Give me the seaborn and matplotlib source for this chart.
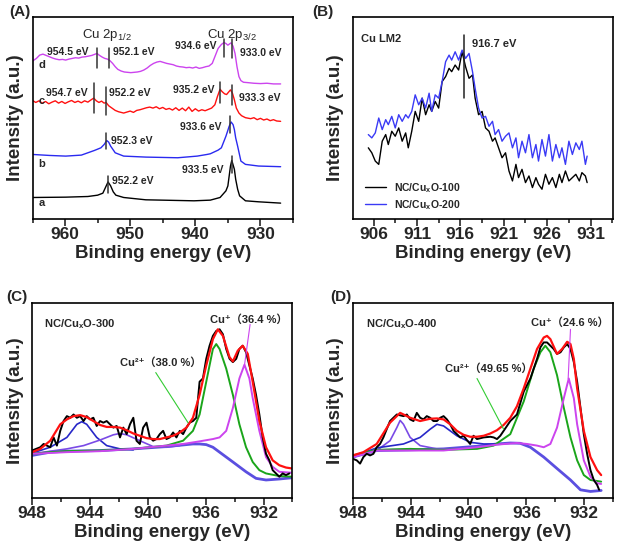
import numpy as np
import matplotlib
matplotlib.use("Agg")
import matplotlib.pyplot as plt
from matplotlib.ticker import FixedLocator
import seaborn as sns

# ---------------- panel A : Cu 2p survey of samples a-d ----------------
a_ev = [965.0, 959.9, 956.5, 955.0, 954.2, 953.8, 953.4, 953.0, 952.6, 952.2, 951.0,
        947.6, 940.2, 937.7, 936.2, 935.3, 935.0, 934.6, 934.4, 934.0, 933.8, 933.5,
        933.2, 932.3, 930.3, 926.9]
a_int = [65, 66, 68, 72, 78, 95, 112, 100, 82, 72, 65,
         58, 55, 57, 65, 85, 100, 160, 177, 150, 120, 90,
         70, 55, 52, 48]

b_ev = [965.0, 962.4, 959.9, 957.5, 956.5, 955.5, 954.5, 954.0, 953.6, 953.3, 953.0,
        952.3, 951.0, 947.6, 942.7, 939.7, 938.2, 937.7, 936.5, 936.0, 935.8, 935.3,
        934.8, 934.5, 934.2, 934.0, 933.8, 933.5, 933.0, 932.3, 930.3, 926.9]
b_int = [195, 192, 190, 193, 200, 207, 215, 225, 237, 232, 220,
         200, 190, 187, 185, 190, 195, 197, 208, 215, 225, 250,
         280, 293, 285, 270, 245, 220, 175, 165, 160, 158]

c_ev = [965.0, 964.5, 964.0, 963.5, 963.0, 962.5, 962.0, 961.5, 961.0, 960.5, 960.0,
        959.5, 959.0, 958.5, 958.0, 957.5, 957.0, 956.5, 956.0, 955.6, 955.2, 954.8,
        954.4, 954.0, 953.7, 953.3, 952.8, 952.3, 951.8, 951.0, 950.5, 950.0, 949.5,
        949.0, 948.5, 948.0, 947.5, 947.0, 946.5, 946.0, 945.5, 945.0, 944.5, 944.0,
        943.5, 943.0, 942.5, 942.0, 941.5, 941.0, 940.5, 940.0, 939.5, 939.0, 938.5,
        938.0, 937.5, 937.0, 936.6, 936.2, 935.9, 935.5, 935.2, 934.9, 934.6, 934.3,
        934.0, 933.7, 933.3, 932.9, 932.3, 931.5, 931.0, 930.5, 930.0, 929.5, 929.0,
        928.5, 928.0, 927.5, 926.9]
c_int = [358, 352, 357, 350, 355, 348, 353, 357, 350, 355, 349,
         354, 358, 352, 356, 351, 357, 353, 360, 365, 357, 352,
         356, 350, 352, 342, 335, 328, 324, 320, 323, 326, 322,
         328, 330, 333, 336, 338, 335, 339, 333, 337, 331, 334,
         329, 336, 328, 335, 327, 338, 325, 333, 326, 330, 327,
         331, 335, 345, 370, 392, 385, 378, 376, 383, 390, 380,
         360, 335, 320, 312, 306, 303, 306, 300, 304, 299, 302,
         297, 300, 296, 295]

d_ev = [965.0, 964.4, 963.9, 963.4, 962.9, 962.4, 961.9, 961.4, 960.9, 960.4, 959.9,
        959.4, 958.9, 958.4, 957.9, 957.4, 956.9, 956.4, 955.9, 955.5, 955.1, 954.7,
        954.3, 953.9, 953.5, 953.1, 952.7, 952.3, 951.9, 951.4, 950.9, 950.4, 949.9,
        949.4, 948.9, 948.4, 947.9, 947.4, 946.9, 946.4, 945.9, 945.4, 944.9, 944.4,
        943.9, 943.4, 942.9, 942.4, 941.9, 941.4, 940.9, 940.4, 939.9, 939.4, 938.9,
        938.4, 937.9, 937.4, 937.0, 936.5, 936.0, 935.6, 935.3, 935.0, 934.8, 934.5,
        934.2, 933.9, 933.6, 933.3, 933.0, 932.6, 932.0, 931.0, 930.0, 929.0, 928.0,
        926.9]
d_int = [477, 485, 495, 498, 494, 490, 486, 483, 481, 482, 480,
         483, 485, 487, 486, 489, 490, 492, 494, 497, 500, 494,
         489, 485, 483, 478, 470, 460, 452, 447, 444, 443, 442,
         443, 444, 446, 450, 456, 464, 470, 474, 476, 473, 470,
         468, 466, 462, 460, 459, 457, 458, 456, 459, 455, 457,
         460, 462, 470, 490, 515, 527, 533, 530, 525, 528, 532,
         522, 500, 460, 430, 418, 413, 412, 410, 409, 410, 408,
         408]

# peak markers (x, y_low, y_high) and labels (text, x, y)
a_marks = [(955.1, 455, 515), (953.3, 455, 515), (935.6, 490, 545), (934.4, 485, 545),
           (955.6, 320, 410), (953.7, 315, 400), (936.2, 350, 415), (934.4, 345, 405),
           (953.7, 210, 260), (934.6, 260, 310),
           (953.4, 80, 130), (934.4, 140, 190)]
a_labels = [("954.5 eV", 959.6, 503), ("952.1 eV", 949.5, 503),
            ("934.6 eV", 939.9, 523), ("933.0 eV", 929.9, 500),
            ("954.7 eV", 959.7, 382), ("952.2 eV", 950.1, 382),
            ("935.2 eV", 940.2, 390), ("933.3 eV", 930.1, 365),
            ("933.6 eV", 939.1, 277), ("952.3 eV", 949.7, 235),
            ("933.5 eV", 938.8, 147), ("952.2 eV", 949.6, 115)]
a_letters = [("d", 964.1, 465), ("c", 964.1, 355), ("b", 964.1, 165), ("a", 964.1, 48)]

# ---------------- panel B : Cu LMM ----------------
lm_ev = [905.4, 905.8, 906.2, 906.6, 907.0, 907.4, 907.7, 908.1, 908.5, 908.9, 909.3,
         909.7, 910.0, 910.4, 910.8, 911.2, 911.6, 912.0, 912.4, 912.7, 913.1, 913.5,
         913.9, 914.3, 914.7, 915.0, 915.4, 915.8, 916.2, 916.6, 917.0, 917.4, 917.7,
         918.1, 918.5, 918.9, 919.3, 919.7, 920.0, 920.4, 920.8, 921.2, 921.6, 922.0,
         922.4, 922.7, 923.1, 923.5, 923.9, 924.3, 924.7, 925.0, 925.4, 925.8, 926.2,
         926.6, 927.0, 927.4, 927.7, 928.1, 928.5, 928.9, 929.3, 929.7, 930.0, 930.4,
         930.6]
lm_100 = [215, 200, 175, 165, 235, 255, 225, 265, 250, 275, 235,
          260, 215, 265, 325, 295, 365, 315, 345, 325, 355, 335,
          415, 430, 455, 445, 465, 450, 505, 460, 425, 435, 365,
          315, 325, 275, 265, 235, 245, 215, 185, 200, 145, 115,
          165, 125, 150, 110, 130, 95, 125, 105, 90, 135, 105,
          125, 95, 135, 110, 145, 115, 125, 135, 115, 140, 130,
          110]
lm_200 = [255, 245, 260, 305, 270, 300, 285, 310, 275, 315, 295,
          315, 305, 325, 375, 345, 365, 335, 380, 325, 375, 365,
          415, 475, 495, 480, 505, 480, 510, 485, 500, 445, 395,
          335, 305, 310, 280, 295, 255, 270, 235, 250, 260, 215,
          245, 185, 235, 200, 255, 185, 225, 175, 240, 190, 255,
          175, 225, 185, 215, 165, 235, 195, 230, 210, 235, 165,
          190]

# ---------------- panel C : NC/CuxO-300 fit ----------------
c3_raw_ev = [948.00, 947.43, 947.20, 946.74, 946.51, 946.28, 946.05, 945.82, 945.59, 945.36,
             945.13, 944.90, 944.67, 944.44, 944.22, 943.99, 943.76, 943.53, 943.30, 943.07,
             942.84, 942.61, 942.38, 942.15, 941.92, 941.69, 941.46, 941.23, 941.00, 940.78,
             940.55, 940.32, 940.09, 939.86, 939.63, 939.40, 939.17, 938.94, 938.71, 938.48,
             938.25, 938.02, 937.79, 937.56, 937.33, 937.11, 936.88, 936.65, 936.42, 936.19,
             935.96, 935.73, 935.50, 935.27, 935.04, 934.81, 934.58, 934.35, 934.12, 933.89,
             933.67, 933.44, 933.21, 932.98, 932.75, 932.52, 932.29, 932.06, 931.83, 931.60,
             931.37, 931.14, 930.91, 930.68, 930.45, 930.22]
c3_raw = [145, 155, 165, 155, 185, 160, 205, 235, 250, 245,
          255, 245, 250, 235, 250, 240, 245, 220, 235, 230,
          235, 225, 215, 220, 185, 215, 195, 225, 245, 175,
          165, 215, 230, 185, 175, 180, 195, 205, 180, 185,
          200, 185, 205, 195, 215, 230, 235, 245, 355, 365,
          425, 465, 495, 510, 515, 500, 455, 425, 415, 425,
          455, 465, 445, 405, 365, 315, 255, 185, 135, 115,
          85, 75, 65, 75, 70, 75]
c3_env_ev = [948.00, 947.43, 946.74, 946.05, 945.59, 945.13, 944.67, 944.22, 943.76, 943.30,
             942.84, 942.38, 941.92, 941.46, 941.00, 940.55, 940.09, 939.63, 939.17, 938.71,
             938.25, 937.79, 937.33, 936.88, 936.42, 935.96, 935.50, 935.16, 934.81, 934.35,
             934.12, 933.78, 933.44, 933.09, 932.75, 932.29, 931.83, 931.37, 930.91, 930.45,
             930.00]
c3_env = [140, 150, 175, 225, 240, 250, 253, 247, 235, 223,
          217, 217, 215, 207, 197, 190, 183, 180, 180, 185,
          190, 200, 215, 245, 315, 405, 485, 515, 495, 430,
          417, 450, 465, 440, 355, 235, 155, 115, 100, 93,
          90]
c3_cu2_ev = [948.00, 946.74, 945.59, 943.30, 941.00, 938.71, 937.56, 936.88, 936.42, 935.96,
             935.50, 935.27, 935.04, 934.58, 934.12, 933.67, 933.21, 932.75, 932.29, 931.83,
             930.91, 930.00]
c3_cu2 = [135, 140, 143, 145, 150, 160, 175, 205, 255, 355,
          455, 470, 455, 395, 315, 225, 155, 110, 85, 75,
          67, 65]
c3_cu1_ev = [948.00, 945.59, 943.30, 941.00, 938.71, 937.56, 936.42, 935.50, 935.04, 934.58,
             934.12, 933.67, 933.32, 932.98, 932.75, 932.29, 931.83, 931.37, 930.91, 930.00]
c3_cu1 = [135, 140, 143, 150, 160, 165, 173, 180, 185, 205,
          275, 365, 407, 365, 305, 205, 125, 95, 80, 77]
c3_sat1_ev = [948.00, 946.74, 945.59, 944.90, 944.56, 944.22, 943.53, 942.84, 941.92, 941.00]
c3_sat1 = [137, 155, 185, 225, 233, 225, 185, 160, 150, 147]
c3_sat2_ev = [948.00, 945.59, 944.44, 943.30, 942.38, 941.92, 941.46, 940.55, 939.63, 938.71,
              937.79]
c3_sat2 = [135, 150, 160, 177, 193, 197, 193, 175, 157, 155, 160]
c3_bg_ev = [948.00, 946.74, 945.59, 943.30, 941.00, 938.71, 937.56, 936.88, 936.42, 935.96,
            935.50, 935.04, 934.12, 933.21, 932.52, 931.83, 930.91, 930.00]
c3_bg = [130, 140, 143, 145, 150, 157, 162, 165, 165, 163,
         155, 140, 110, 80, 60, 55, 58, 62]

# ---------------- panel D : NC/CuxO-400 fit ----------------
d4_raw_ev = [948.00, 947.72, 947.49, 947.26, 947.03, 946.80, 946.57, 946.34, 946.11, 945.88,
             945.42, 944.95, 944.49, 944.26, 944.03, 943.80, 943.57, 943.34, 943.11, 942.88,
             942.65, 942.42, 942.18, 941.95, 941.72, 941.49, 941.26, 941.03, 940.80, 940.57,
             940.34, 940.11, 939.88, 939.65, 939.41, 938.95, 938.49, 938.26, 938.03, 937.80,
             937.57, 937.34, 937.11, 936.65, 936.18, 935.72, 935.26, 935.03, 934.80, 934.57,
             934.34, 934.11, 933.88, 933.64, 933.41, 933.18, 932.95, 932.72, 932.49, 932.26,
             932.03, 931.80, 931.57, 931.34, 931.11, 930.97]
d4_raw = [120, 115, 105, 125, 135, 130, 135, 155, 165, 185,
          235, 255, 250, 255, 240, 235, 260, 245, 240, 250,
          245, 235, 235, 245, 250, 240, 225, 205, 195, 185,
          190, 177, 165, 190, 180, 185, 187, 185, 180, 190,
          205, 220, 235, 255, 325, 365, 425, 460, 475, 475,
          465, 455, 440, 445, 460, 470, 455, 415, 355, 275,
          195, 135, 85, 55, 40, 25]
d4_env_ev = [948.00, 947.26, 946.34, 945.42, 944.72, 944.03, 943.34, 942.65, 942.18, 941.72,
             941.26, 940.80, 940.34, 939.88, 939.41, 938.95, 938.49, 938.03, 937.57, 937.11,
             936.65, 936.18, 935.72, 935.26, 934.80, 934.57, 934.34, 933.88, 933.53, 933.18,
             932.95, 932.72, 932.49, 932.03, 931.57, 931.11, 930.83]
d4_env = [130, 140, 165, 230, 260, 245, 235, 242, 243, 240,
          225, 205, 193, 187, 187, 190, 197, 207, 223, 245,
          280, 335, 395, 455, 490, 495, 485, 440, 455, 477,
          470, 425, 335, 205, 125, 85, 70]
d4_cu2_ev = [948.00, 946.34, 944.03, 941.72, 939.41, 938.26, 937.11, 936.18, 935.49, 935.03,
             934.69, 934.34, 933.88, 933.41, 932.95, 932.49, 932.03, 931.57, 930.83]
d4_cu2 = [130, 147, 150, 147, 150, 160, 195, 295, 395, 445,
          465, 445, 375, 275, 185, 115, 70, 55, 50]
d4_cu1_ev = [948.00, 946.34, 944.03, 941.72, 939.41, 938.03, 936.65, 935.95, 935.26, 934.80,
             934.34, 933.88, 933.41, 933.07, 932.72, 932.49, 932.03, 931.57, 931.11, 930.83]
d4_cu1 = [125, 145, 145, 145, 155, 163, 168, 165, 160, 155,
          165, 215, 305, 365, 305, 225, 115, 65, 45, 43]
d4_sat1_ev = [948.00, 946.34, 945.42, 944.95, 944.72, 944.49, 944.03, 943.34, 942.18, 940.57]
d4_sat1 = [125, 145, 175, 215, 237, 225, 185, 160, 150, 150]
d4_sat2_ev = [948.00, 946.34, 944.49, 943.34, 942.65, 942.18, 941.72, 940.80, 939.88, 938.95,
              938.03]
d4_sat2 = [127, 153, 165, 185, 210, 225, 220, 190, 170, 165, 165]
d4_bg_ev = [948.00, 946.34, 944.03, 941.72, 939.41, 938.03, 937.11, 936.42, 935.72, 934.80,
            933.88, 932.95, 932.26, 931.57, 930.83]
d4_bg = [125, 145, 147, 150, 158, 165, 168, 167, 155, 125,
         90, 55, 25, 20, 23]

# ---------------- styling ----------------
sns.set_style("ticks")
plt.rcParams["font.family"] = ["Liberation Sans", "Noto Sans CJK SC", "DejaVu Sans"]
plt.rcParams["mathtext.fontset"] = "custom"
plt.rcParams["mathtext.rm"] = "Liberation Sans"
plt.rcParams["mathtext.bf"] = "Liberation Sans:bold"
plt.rcParams["mathtext.it"] = "Liberation Sans:italic"
plt.rcParams["axes.linewidth"] = 1.2

BLACK = "#000000"
RED = "#ff1010"
BLUE = "#2a2af0"
MAG = "#cc44ee"
GREEN = "#1aa51a"
SAT_BLUE = "#2727c8"
SAT_PUR = "#7a4ae6"
BG = "#5b4fe0"


def trace(ax, x, y, color, lw=1.0, label=None):
    sns.lineplot(x=x, y=y, ax=ax, color=color, lw=lw, estimator=None,
                 sort=False, label=label, legend=False)


def style_axes(ax, xlim, ylim, major, minor):
    ax.set_xlim(*xlim)
    ax.set_ylim(*ylim)
    ax.xaxis.set_major_locator(FixedLocator(major))
    ax.xaxis.set_minor_locator(FixedLocator(minor))
    ax.tick_params(axis="x", which="major", direction="out", length=5, width=1.2,
                   labelsize=12.5, pad=1)
    ax.tick_params(axis="x", which="minor", direction="out", length=3, width=1.2)
    ax.tick_params(axis="y", left=False, labelleft=False)
    for t in ax.get_xticklabels():
        t.set_fontweight("bold")
    for s in ax.spines.values():
        s.set_visible(True)
        s.set_linewidth(1.2)
        s.set_color("black")
    ax.set_xlabel("Binding energy (eV)", fontsize=13.5, fontweight="bold", labelpad=2)
    ax.set_ylabel("Intensity (a.u.)", fontsize=13.5, fontweight="bold", labelpad=6)


fig = plt.figure(figsize=(6.18, 5.60), dpi=100)
ax_a = fig.add_axes([0.0526, 0.6089, 0.4215, 0.3607])
ax_b = fig.add_axes([0.5707, 0.6089, 0.4215, 0.3607])
ax_c = fig.add_axes([0.0518, 0.1107, 0.4215, 0.3480])
ax_d = fig.add_axes([0.5707, 0.1107, 0.4215, 0.3480])

# ---- A ----
trace(ax_a, a_ev, a_int, BLACK)
trace(ax_a, b_ev, b_int, BLUE)
trace(ax_a, c_ev, c_int, RED)
trace(ax_a, d_ev, d_int, MAG)
for x, y0, y1 in a_marks:
    ax_a.plot([x, x], [y0, y1], color="#333333", lw=1.1)
for txt, x, y in a_labels:
    ax_a.text(x, y, txt, ha="center", va="center", fontsize=7.5, fontweight="bold")
for txt, x, y in a_letters:
    ax_a.text(x, y, txt, ha="left", va="center", fontsize=8, fontweight="bold")
ax_a.text(953.5, 555, r"Cu 2p$_{1/2}$", ha="center", va="center", fontsize=9.5)
ax_a.text(934.3, 555, r"Cu 2p$_{3/2}$", ha="center", va="center", fontsize=9.5)
style_axes(ax_a, (965, 925), (0, 610), [960, 950, 940, 930], [965, 955, 945, 935, 925])

# ---- B ----
trace(ax_b, lm_ev, lm_100, BLACK, label=r"NC/Cu$_\mathbf{x}$O-100")
trace(ax_b, lm_ev, lm_200, "#3a3af5", label=r"NC/Cu$_\mathbf{x}$O-200")
ax_b.plot([916.4, 916.4], [365, 555], color="#222222", lw=1.1)
ax_b.text(917.3, 530, "916.7 eV", ha="left", va="center", fontsize=8, fontweight="bold")
ax_b.text(904.5, 545, "Cu LM2", ha="left", va="center", fontsize=8, fontweight="bold")
style_axes(ax_b, (903.6, 933.6), (0, 610), [906, 911, 916, 921, 926, 931],
           [908.5, 913.5, 918.5, 923.5, 928.5, 933.5])
leg = ax_b.legend(loc="lower left", frameon=False, fontsize=7.5, handlelength=2.0,
                  borderaxespad=0.3, labelspacing=0.3, bbox_to_anchor=(0.02, 0.0))
for t in leg.get_texts():
    t.set_fontweight("bold")

# ---- C ----
trace(ax_c, c3_bg_ev, c3_bg, BG, lw=2.0)
trace(ax_c, c3_sat1_ev, c3_sat1, SAT_BLUE, lw=1.2)
trace(ax_c, c3_sat2_ev, c3_sat2, SAT_PUR, lw=1.2)
trace(ax_c, c3_cu2_ev, c3_cu2, GREEN, lw=1.4)
trace(ax_c, c3_cu1_ev, c3_cu1, MAG, lw=1.4)
trace(ax_c, c3_raw_ev, c3_raw, BLACK, lw=1.4)
trace(ax_c, c3_env_ev, c3_env, RED, lw=1.6)
ax_c.plot([939.45, 937.22], [383, 230], color="#33cc33", lw=0.8)
ax_c.plot([932.93, 933.32], [530, 405], color=MAG, lw=0.8)
ax_c.text(947.2, 530, r"NC/Cu$_\mathbf{x}$O-300", ha="left", va="center",
          fontsize=8, fontweight="bold")
ax_c.text(941.9, 415, "Cu²⁺（38.0 %）", ha="left", va="center",
          fontsize=8, fontweight="bold")
ax_c.text(935.7, 545, "Cu⁺（36.4 %）", ha="left", va="center",
          fontsize=8, fontweight="bold")
style_axes(ax_c, (948, 930), (0, 595), [948, 944, 940, 936, 932], [946, 942, 938, 934, 930])

# ---- D ----
trace(ax_d, d4_bg_ev, d4_bg, BG, lw=2.0)
trace(ax_d, d4_sat1_ev, d4_sat1, SAT_PUR, lw=1.2)
trace(ax_d, d4_sat2_ev, d4_sat2, SAT_BLUE, lw=1.2)
trace(ax_d, d4_cu2_ev, d4_cu2, GREEN, lw=1.4)
trace(ax_d, d4_cu1_ev, d4_cu1, MAG, lw=1.4)
trace(ax_d, d4_raw_ev, d4_raw, BLACK, lw=1.4)
trace(ax_d, d4_env_ev, d4_env, RED, lw=1.6)
ax_d.plot([939.41, 937.57], [365, 210], color="#33cc33", lw=0.8)
ax_d.plot([932.95, 933.11], [515, 365], color=MAG, lw=0.8)
ax_d.text(947.1, 530, r"NC/Cu$_\mathbf{x}$O-400", ha="left", va="center",
          fontsize=8, fontweight="bold")
ax_d.text(941.6, 395, "Cu²⁺（49.65 %）", ha="left", va="center",
          fontsize=8, fontweight="bold")
ax_d.text(935.7, 537, "Cu⁺（24.6 %）", ha="left", va="center",
          fontsize=8, fontweight="bold")
style_axes(ax_d, (948, 930), (0, 595), [948, 944, 940, 936, 932], [946, 942, 938, 934, 930])

# panel letters
for txt, x, y in [("(A)", 0.015, 0.978), ("(B)", 0.505, 0.978),
                  ("(C)", 0.010, 0.470), ("(D)", 0.535, 0.470)]:
    fig.text(x, y, txt, fontsize=11, fontweight="bold", ha="left", va="center")

fig.savefig("out.png", dpi=100)
